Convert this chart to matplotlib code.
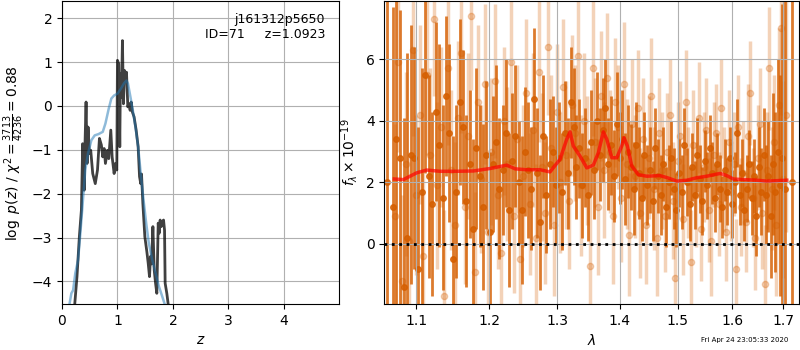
import numpy as np
import matplotlib
matplotlib.use('Agg')
import matplotlib.pyplot as plt
from matplotlib.ticker import MultipleLocator, FixedLocator, FormatStrFormatter, NullLocator

# ---- p(z) panel data
z_pz = [0.22, 0.229, 0.27, 0.313, 0.35, 0.373, 0.40, 0.415, 0.434, 0.452, 0.47, 0.494,
        0.518, 0.554, 0.60, 0.64, 0.675, 0.71, 0.735, 0.76, 0.783, 0.82, 0.843, 0.88,
        0.904, 0.94, 0.964, 0.988, 1.0, 1.024, 1.042, 1.054, 1.072, 1.09, 1.108, 1.127,
        1.145, 1.163, 1.187, 1.205, 1.229, 1.247, 1.27, 1.30, 1.337, 1.373, 1.398, 1.42,
        1.434, 1.458, 1.494, 1.53, 1.554, 1.578, 1.596, 1.614, 1.639, 1.663, 1.687, 1.71,
        1.735, 1.753, 1.77, 1.789, 1.807, 1.831, 1.849, 1.86, 1.89, 1.916, 1.93]
logp_pz = [-5.0, -4.53, -3.89, -2.98, -2.37, -0.86, -1.92, -0.86, 0.09, -1.31, -0.48, -1.08,
           -1.01, -1.54, -1.77, -1.46, -0.74, -0.89, -1.16, -0.97, -1.31, -1.01, -1.20, -0.55,
           -1.16, -1.54, -1.31, -1.46, 1.04, 0.96, -0.93, 0.73, 0.20, 1.49, 0.05, 0.81,
           0.58, 0.77, -0.02, 0.05, -0.10, 0.09, -0.14, -0.25, -0.55, -0.93, -1.61, -1.77,
           -1.55, -2.22, -2.98, -3.32, -3.58, -3.89, -3.43, -3.60, -2.75, -3.74, -4.04, -4.27,
           -2.67, -2.90, -2.60, -2.75, -2.64, -2.60, -2.83, -4.04, -4.27, -4.53, -5.0]

z_prior = [0.12, 0.133, 0.169, 0.20, 0.24, 0.29, 0.331, 0.373, 0.42, 0.47, 0.53, 0.59,
           0.66, 0.735, 0.783, 0.843, 0.89, 0.94, 1.0, 1.06, 1.12, 1.163, 1.19, 1.235,
           1.277, 1.325, 1.373, 1.42, 1.47, 1.518, 1.566, 1.627, 1.687, 1.747, 1.807,
           1.855, 1.87]
logp_prior = [-5.0, -4.53, -4.27, -4.20, -3.81, -3.51, -2.90, -2.22, -1.46, -1.08, -0.78, -0.67,
              -0.64, -0.59, -0.40, -0.06, 0.17, 0.24, 0.28, 0.39, 0.52, 0.58, 0.51, 0.20,
              -0.10, -0.48, -0.93, -1.54, -2.14, -2.67, -3.13, -3.51, -3.81, -4.11, -4.34,
              -4.53, -5.0]

label_text = 'j161312p5650\nID=71     z=1.0923'
chi2_label = r'$\log\ p(z)$' + ' / ' + r'$\chi^2=\frac{3713}{4236}=0.88$'
pz_max = 1.486

# ---- spectrum data: combined (dark) and single beam (light), wavelengths in Angstrom
wave_comb = [10625, 10700, 10747, 10793, 10840, 10886, 10933, 10979, 11026, 11072, 11119,
             11165, 11212, 11258, 11305, 11351, 11398, 11444, 11491, 11537, 11584,
             11630, 11677, 11723, 11770, 11816, 11863, 11909, 11956, 12002, 12049,
             12095, 12142, 12188, 12235, 12281, 12328, 12374, 12421, 12467, 12514,
             12560, 12607, 12653, 12700, 12746, 12793, 12839, 12886, 12932, 12979,
             13025, 13072, 13118, 13165, 13211, 13258, 13304, 13351, 13397, 13444,
             13490, 13537, 13583, 13630, 13676, 13723, 13769, 13816, 13862, 13909,
             13955, 14002, 14048, 14095, 14141, 14188, 14234, 14281, 14327, 14374,
             14420, 14467, 14513, 14560, 14606, 14653, 14699, 14746, 14792, 14839,
             14885, 14932, 14978, 15025, 15071, 15118, 15164, 15211, 15257, 15304,
             15350, 15397, 15443, 15490, 15536, 15583, 15629, 15676, 15722, 15769,
             15815, 15862, 15908, 15955, 16001, 16048, 16094, 16141, 16187, 16234,
             16280, 16327, 16373, 16420, 16466, 16513, 16559, 16606, 16652, 16699,
             16745, 16792, 16838, 16885, 16931, 16978, 17024, 17170]
flux_comb = [2.0, 1.2, 3.4, 2.8, -1.4, 0.2, 2.9, 2.8, -0.8, 1.7, 5.5,
             2.2, 1.3, 4.3, 3.2, 1.5, 4.8, 3.6, -0.5, 1.7, 4.6,
             3.8, 1.4, 2.6, 0.5, 3.1, 2.2, 1.2, 2.9, 0.4, 2.6,
             3.3, 1.8, 2.4, 3.6, 1.1, 2.7, 3.5, 2.0, 1.1, 3.0,
             2.4, 1.8, 4.7, 2.3, 0.7, 3.5, 1.6, 2.6, 3.0, 1.9,
             2.8, 1.7, 3.6, 2.3, 4.6, 3.8, 2.5, 3.1, 1.9, 2.8,
             1.6, 3.3, 2.4, 4.0, 2.9, 3.7, 4.4, 2.6, 3.2, 2.2,
             3.9, 2.8, 3.4, 2.1, 3.0, 2.5, 1.8, 3.2, 2.3, 1.5,
             2.9, 1.9, 2.4, 1.4, 3.1, 2.2, 1.6, 2.6, 1.2, 2.0,
             2.8, 1.8, 1.1, 2.3, 1.7, 3.2, 2.0, 1.3, 2.5, 1.6,
             2.9, 2.1, 1.4, 2.7, 1.9, 3.1, 2.3, 1.5, 2.6, 1.8,
             1.2, 2.4, 1.7, 2.8, 1.3, 2.0, 3.6, 1.6, 2.3, 1.1,
             1.8, 2.6, 1.5, 2.2, 0.9, 2.5, 1.7, 2.9, 1.6, 2.2,
             0.9, 2.6, 1.7, 3.0, 1.9, 2.8, 1.8, 2.0]
err_comb = [40.0, 6.5, 5.5, 4.8, 5.5, 6.0, 4.2, 3.6, 4.6, 4.0, 3.2,
            3.3, 3.0, 2.9, 3.3, 3.0, 2.6, 2.9, 4.0, 2.8, 2.7,
            2.5, 2.8, 2.4, 2.9, 2.6, 2.3, 2.7, 2.4, 2.6, 2.2,
            2.5, 2.3, 2.1, 2.4, 2.5, 2.2, 2.3, 2.0, 2.4, 2.1,
            2.2, 2.0, 2.3, 2.1, 2.2, 2.0, 1.9, 2.1, 1.8, 1.9,
            1.8, 1.9, 1.7, 1.8, 1.8, 1.9, 1.7, 1.6, 1.7, 1.6,
            1.5, 1.7, 1.6, 1.6, 1.5, 1.7, 1.6, 1.5, 1.6, 1.5,
            1.7, 1.5, 1.6, 1.5, 1.5, 1.4, 1.5, 1.4, 1.5, 1.4,
            1.4, 1.3, 1.4, 1.3, 1.3, 1.2, 1.3, 1.2, 1.3, 1.2,
            1.2, 1.3, 1.2, 1.1, 1.2, 1.2, 1.1, 1.2, 1.1, 1.1,
            1.2, 1.1, 1.1, 1.0, 1.1, 1.1, 1.0, 1.1, 1.0, 1.1,
            1.0, 1.0, 1.1, 1.0, 1.1, 1.0, 1.1, 1.0, 1.1, 1.0,
            1.1, 1.1, 1.2, 1.2, 1.3, 1.3, 1.4, 1.5, 1.6, 1.8,
            2.0, 2.3, 2.6, 3.0, 3.6, 5.0, 9.0, 40.0]

wave_beam = [10724, 10771, 10817, 10864, 10910, 10957, 11003, 11050, 11096, 11143,
             11189, 11236, 11282, 11329, 11375, 11422, 11468, 11515, 11561, 11608,
             11654, 11701, 11747, 11794, 11840, 11887, 11933, 11980, 12026, 12073,
             12119, 12166, 12212, 12259, 12305, 12352, 12398, 12445, 12491, 12538,
             12584, 12631, 12677, 12724, 12770, 12817, 12863, 12910, 12956, 13003,
             13049, 13096, 13142, 13189, 13235, 13282, 13328, 13375, 13421, 13468,
             13514, 13561, 13607, 13654, 13700, 13747, 13793, 13840, 13886, 13933,
             13979, 14026, 14072, 14119, 14165, 14212, 14258, 14305, 14351, 14398,
             14444, 14491, 14537, 14584, 14630, 14677, 14723, 14770, 14816, 14863,
             14909, 14956, 15002, 15049, 15095, 15142, 15188, 15235, 15281, 15328,
             15374, 15421, 15467, 15514, 15560, 15607, 15653, 15700, 15746, 15793,
             15839, 15886, 15932, 15979, 16025, 16072, 16118, 16165, 16211, 16258,
             16304, 16351, 16397, 16444, 16490, 16537, 16583, 16630, 16676, 16723,
             16769, 16816, 16862, 16909, 16955, 17002, 17048]
flux_beam = [0.9, 5.9, -1.2, 2.6, 0.1, 6.3, 1.6, 4.2, -0.4, 5.5,
             2.9, 7.3, 1.9, 3.8, -1.7, 5.7, 2.4, 0.6, 4.1, 6.2,
             1.2, 3.5, 7.4, -0.9, 4.6, 2.1, 5.2, 0.4, 3.0, 5.3,
             1.6, -0.3, 4.0, 2.6, 5.9, 0.9, 3.4, -0.5, 2.2, 4.9,
             1.3, 3.7, 0.2, 5.6, 2.5, 1.0, 6.4, 3.1, 0.6, 4.3,
             2.0, 5.1, 2.9, 1.4, 4.5, 3.6, 6.1, 1.9, 4.0, 2.7,
             -0.7, 5.7, 3.3, 1.2, 4.8, 2.4, 5.4, 3.0, 0.9, 4.6,
             3.8, 1.5, 5.2, 2.6, 0.3, 3.9, 2.2, 4.4, 1.0, 3.4,
             0.6, 2.8, 4.8, 1.8, 0.2, 3.6, 2.4, 0.9, 3.0, 4.2,
             1.4, -1.1, 2.7, 3.5, 0.8, 4.6, 2.0, -0.6, 3.2, 1.6,
             4.1, 0.5, 2.5, 3.7, 1.1, 0.1, 2.9, 3.6, 1.3, 4.4,
             2.1, 0.4, 3.3, 1.7, 2.6, -0.8, 3.8, 1.2, 2.3, 0.7,
             3.5, 4.9, 1.5, 0.2, 2.8, 3.9, 1.0, -1.3, 2.4, 5.7,
             1.8, 3.3, 0.6, 4.5, 7.0, 2.1, 4.2]
err_beam = [3.0, 2.9, 2.8, 3.0, 2.7, 2.8, 2.6, 2.9, 2.7, 2.6,
            2.8, 2.5, 2.7, 2.6, 2.8, 2.5, 2.6, 2.7, 2.5, 2.6,
            2.5, 2.7, 2.4, 2.6, 2.5, 2.4, 2.6, 2.5, 2.4, 2.5,
            2.4, 2.6, 2.4, 2.5, 2.3, 2.5, 2.4, 2.5, 2.3, 2.4,
            2.3, 2.5, 2.4, 2.3, 2.4, 2.3, 2.2, 2.4, 2.3, 2.2,
            2.3, 2.2, 2.4, 2.2, 2.3, 2.2, 2.1, 2.3, 2.2, 2.1,
            2.3, 2.2, 2.1, 2.2, 2.1, 2.2, 2.1, 2.0, 2.2, 2.1,
            2.0, 2.1, 2.0, 2.1, 2.0, 2.1, 2.0, 1.9, 2.1, 2.0,
            1.9, 2.0, 1.9, 2.0, 1.9, 1.8, 1.9, 1.8, 1.9, 1.8,
            1.9, 1.8, 1.9, 1.8, 1.8, 1.7, 1.8, 1.7, 1.8, 1.7,
            1.8, 1.7, 1.8, 1.7, 1.7, 1.8, 1.7, 1.6, 1.7, 1.6,
            1.7, 1.6, 1.7, 1.6, 1.7, 1.6, 1.7, 1.6, 1.7, 1.6,
            1.7, 1.7, 1.6, 1.7, 1.7, 1.8, 1.8, 1.9, 1.9, 2.0,
            2.0, 2.2, 2.3, 2.5, 2.8, 3.2, 3.8]

# best-fit model
wave_model = [1.072, 1.0836, 1.1009, 1.114, 1.1317, 1.1544, 1.1773, 1.2008, 1.2249, 1.2370,
              1.2542, 1.2741, 1.2893, 1.3047, 1.3151, 1.3203, 1.3254, 1.3360, 1.3467, 1.3572,
              1.3653, 1.3734, 1.3790, 1.3872, 1.3955, 1.4037, 1.4075, 1.4131, 1.4205, 1.4316,
              1.4459, 1.4689, 1.4834, 1.4983, 1.5161, 1.5342, 1.5525, 1.5772, 1.5897, 1.6022,
              1.6213, 1.6473, 1.6669, 1.707]
flux_model = [2.11, 2.09, 2.31, 2.40, 2.36, 2.36, 2.37, 2.45, 2.56, 2.44,
              2.41, 2.41, 2.34, 2.75, 3.40, 3.64, 3.18, 2.85, 2.47, 2.56,
              2.96, 3.64, 3.40, 2.80, 2.80, 3.18, 3.45, 3.18, 2.53, 2.25,
              2.20, 2.22, 2.14, 2.04, 2.07, 2.15, 2.20, 2.29, 2.22, 2.11,
              2.09, 2.07, 2.04, 2.07]

wave_ticks = [1.1, 1.2, 1.3, 1.4, 1.5, 1.6, 1.7]
timestamp = 'Fri Apr 24 23:05:33 2020'

G141 = (0.8352941, 0.3686274, 0.0)

# ---- figure
fig = plt.figure(figsize=(8, 3.5), dpi=100)
axz = fig.add_axes([0.0775, 0.1314, 0.3459, 0.8649])
axc = fig.add_axes([0.4804, 0.1314, 0.5188, 0.8649])

# p(z)
axz.plot(z_pz, logp_pz, color='k', alpha=0.75, lw=2)
axz.plot(z_prior, logp_prior, color='#1f77b4', alpha=0.5, lw=1.8)
axz.text(0.95, 0.96, label_text, ha='right', va='top', transform=axz.transAxes, fontsize=9)
axz.set_xlabel(r'$z$')
axz.set_ylabel(chi2_label)
axz.set_xlim(0, 4.99)
axz.set_ylim(pz_max - 6, pz_max + 0.9)
axz.xaxis.set_major_locator(MultipleLocator(1))
axz.yaxis.set_major_locator(MultipleLocator(1))
axz.grid()

# spectrum
wb = np.array(wave_beam) / 1e4
wc = np.array(wave_comb) / 1e4
axc.errorbar(wb, flux_beam, yerr=err_beam, color=G141, alpha=0.28, marker='o', ms=4.5,
             linestyle='None', elinewidth=2.5, zorder=1)
axc.errorbar(wc, flux_comb, yerr=err_comb, color=G141, alpha=0.82, marker='o', ms=4,
             linestyle='None', elinewidth=2, zorder=1)
axc.plot(wave_model, flux_model, color='r', alpha=0.7, lw=2.5, zorder=10)
axc.plot([1.0594, 1.7326], [0, 0], color='k', linestyle=':', lw=2, zorder=11)

axc.set_xscale('log')
axc.set_xlim(1.0594, 1.7326)
axc.set_ylim(-1.95, 7.88)
axc.xaxis.set_major_locator(FixedLocator(wave_ticks))
axc.xaxis.set_major_formatter(FormatStrFormatter('%.1f'))
axc.xaxis.set_minor_locator(NullLocator())
axc.yaxis.set_major_locator(MultipleLocator(2))
axc.set_xlabel(r'$\lambda$')
axc.set_ylabel(r'$f_\lambda \times 10^{-19}$')
axc.grid()

fig.text(0.985, 0.02, timestamp, ha='right', va='bottom', fontsize=5)

fig.savefig('out.png', dpi=100)
